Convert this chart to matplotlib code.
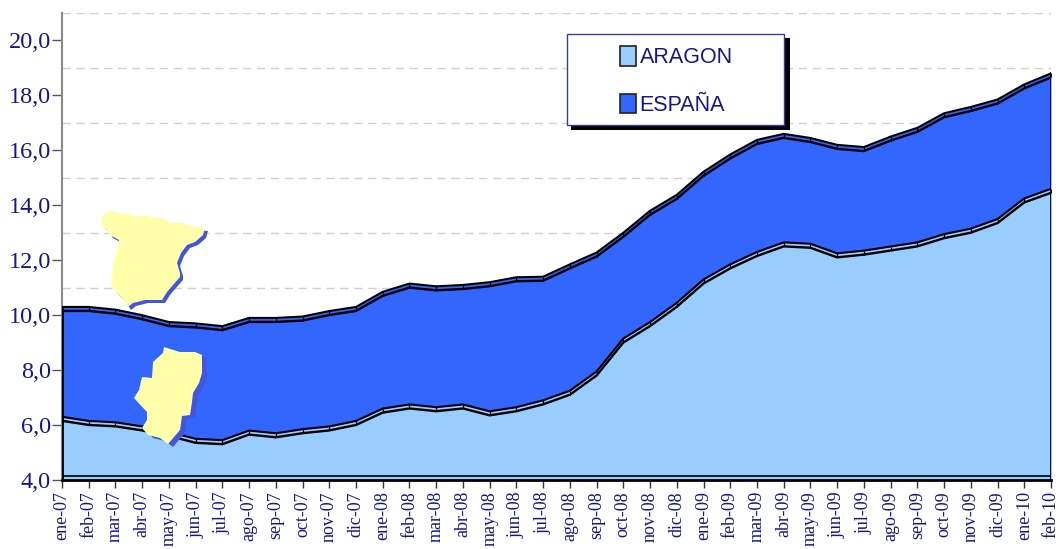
#!/usr/bin/env python3
"""Paro registrado: Aragon vs Espana, area chart with the two map insets."""

import numpy as np
import matplotlib
matplotlib.use("Agg")
import matplotlib.pyplot as plt
from matplotlib.patches import Patch, Polygon, Rectangle
from matplotlib.transforms import offset_copy

months = [
    "ene-07", "feb-07", "mar-07", "abr-07", "may-07", "jun-07", "jul-07", "ago-07",
    "sep-07", "oct-07", "nov-07", "dic-07", "ene-08", "feb-08", "mar-08", "abr-08",
    "may-08", "jun-08", "jul-08", "ago-08", "sep-08", "oct-08", "nov-08", "dic-08",
    "ene-09", "feb-09", "mar-09", "abr-09", "may-09", "jun-09", "jul-09", "ago-09",
    "sep-09", "oct-09", "nov-09", "dic-09", "ene-10", "feb-10",
]
aragon = [
    6.30, 6.15, 6.10, 5.95, 5.75, 5.50, 5.45, 5.80, 5.70, 5.85, 5.95, 6.15, 6.60,
    6.75, 6.65, 6.75, 6.50, 6.65, 6.90, 7.25, 7.95, 9.15, 9.75, 10.45, 11.30, 11.85,
    12.30, 12.65, 12.60, 12.25, 12.35, 12.50, 12.65, 12.95, 13.15, 13.50, 14.25, 14.60,
]
espana = [
    10.30, 10.30, 10.20, 10.00, 9.75, 9.70, 9.60, 9.90, 9.90, 9.95, 10.15, 10.30, 10.85,
    11.15, 11.05, 11.10, 11.20, 11.38, 11.40, 11.85, 12.28, 13.00, 13.80, 14.38, 15.22, 15.85,
    16.38, 16.60, 16.45, 16.20, 16.12, 16.50, 16.82, 17.35, 17.58, 17.85, 18.40, 18.80,
]
y_ticks = [4, 6, 8, 10, 12, 14, 16, 18, 20]
y_grid = [5, 7, 9, 11, 13, 15, 17, 19, 21]

# map outlines, in picture pixels
spain_shape = [
    (101, 217), (110, 211), (118, 213), (128, 214), (137, 217), (145, 215), (153, 218),
    (163, 218), (170, 223), (182, 223), (195, 227), (205, 228), (203, 235), (195, 242),
    (187, 245), (181, 253), (177, 263), (180, 273), (180, 277), (173, 285), (167, 292),
    (162, 300), (145, 300), (133, 303), (128, 307), (122, 298), (115, 291), (111, 285),
    (113, 273), (113, 262), (117, 253), (119, 240), (110, 235), (107, 230), (102, 225),
]
aragon_shape = [
    (164, 347), (170, 349), (180, 352), (195, 352), (202, 355), (202, 373), (199, 383),
    (193, 393), (192, 402), (190, 415), (182, 416), (180, 430), (168, 444), (160, 438),
    (148, 435), (142, 428), (147, 420), (147, 412), (134, 398), (139, 390), (142, 377),
    (152, 378), (153, 362), (163, 353),
]

W, H = 1059, 549
NAVY = "#16168a"
serif = "Liberation Serif"
sans = "Liberation Sans"


def fx(px):
    return px / W


def fy(py):
    return 1 - py / H


fig = plt.figure(figsize=(W / 100, H / 100), dpi=100)
ax = fig.add_axes([fx(62), fy(480), fx(1051 - 62), (480 - 13) / H])

x = np.arange(len(months))
ax.fill_between(x, 4, espana, color="#3366ff", lw=0, zorder=2)
ax.fill_between(x, 4, aragon, color="#99ccff", lw=0, zorder=2.1)

# double edge that gives the areas their raised look
lower = offset_copy(ax.transData, fig, y=-4, units="dots")
middle = offset_copy(ax.transData, fig, y=-2, units="dots")
for vals in (espana, aragon):
    ax.plot(x, vals, color="black", lw=1.5, zorder=3)
    ax.plot(x, vals, color="black", lw=1.7, zorder=3, transform=lower)
    ax.plot(x, vals, ls="none", marker="|", ms=2.5, mew=0.9, color="black", zorder=3, transform=middle)

ax.plot([0, 0], [4, espana[0]], color="black", lw=2, zorder=3)
ax.plot([x[-1], x[-1]], [4, espana[-1]], color="black", lw=2, zorder=3)
ax.axhline(4.15, color="black", lw=1.2, zorder=3)

ax.set_xlim(0, x[-1])
ax.set_ylim(4, 21)
ax.set_xticks(x)
ax.set_xticklabels(months, rotation=90, family=serif, fontsize=13, color=NAVY)
ax.set_yticks(y_ticks)
ax.set_yticklabels([f"{v:.1f}".replace(".", ",") for v in y_ticks], family=serif, fontsize=17.5, color=NAVY)
ax.set_yticks(y_grid, minor=True)
ax.grid(which="minor", axis="y", color="#d0d0d0", ls=(0, (6, 4)), lw=1)
ax.set_axisbelow(True)
ax.tick_params(axis="y", which="minor", length=0)
ax.tick_params(axis="y", which="major", length=7, width=1, color="#555555", pad=1)
ax.tick_params(axis="x", which="major", length=6, width=1, color="#333333", pad=2)

for side in ("top", "right"):
    ax.spines[side].set_visible(False)
ax.spines["left"].set_color("#8a8a8a")
ax.spines["left"].set_linewidth(1.5)
ax.spines["bottom"].set_color("black")
ax.spines["bottom"].set_linewidth(2)

# map insets: blue shadow first, yellow shape on top
for shape, dx, dy in ((spain_shape, 3, 3), (aragon_shape, 5, 3)):
    pts = np.array(shape, dtype=float)
    shadow = np.column_stack([fx(pts[:, 0] + dx), fy(pts[:, 1] + dy)])
    front = np.column_stack([fx(pts[:, 0]), fy(pts[:, 1])])
    ax.add_patch(Polygon(shadow, closed=True, fc="#4455dd", ec="none", transform=fig.transFigure, clip_on=False, zorder=4))
    ax.add_patch(Polygon(front, closed=True, fc="#ffffaa", ec="none", transform=fig.transFigure, clip_on=False, zorder=4.1))

# legend box with hard shadow
ax.add_patch(Rectangle((fx(571), fy(130)), 219 / W, 92 / H, fc="black", ec="none",
                       transform=fig.transFigure, clip_on=False, zorder=5))
ax.add_patch(Rectangle((fx(567), fy(124.5)), 217 / W, 91 / H, fc="white", ec="#3a3a9a", lw=1,
                       transform=fig.transFigure, clip_on=False, zorder=5.1))
handles = [Patch(fc="#99ccff", ec="#222222", lw=1.2, label="ARAGON"),
           Patch(fc="#3366ff", ec="#222222", lw=1.2, label="ESPAÑA")]
leg = ax.legend(handles=handles, loc="upper left", bbox_to_anchor=(fx(602), fy(28)),
                bbox_transform=fig.transFigure, frameon=False, handlelength=0.75, handleheight=1.0,
                handletextpad=0.15, labelspacing=1.2, borderpad=0.35,
                prop={"family": sans, "size": 15.5})
leg.set_zorder(6)
for t in leg.get_texts():
    t.set_color(NAVY)

fig.savefig("out.png", dpi=100)
